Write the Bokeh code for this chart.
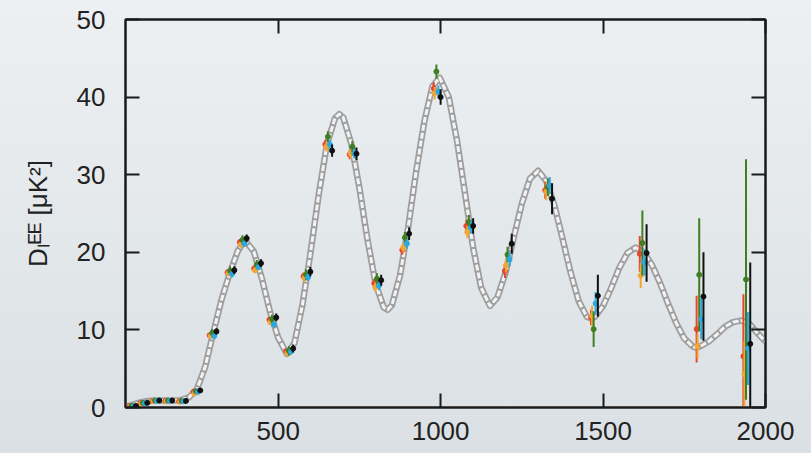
from bokeh.plotting import figure
from bokeh.models import LinearAxis, FixedTicker, Range1d, ColumnDataSource
from bokeh.embed import file_html
from bokeh.resources import INLINE

# ---------------- data ----------------
x_ticks = [500, 1000, 1500, 2000]
y_ticks = [0, 10, 20, 30, 40, 50]

theory_ell = [30, 50, 75, 100, 125, 150, 175, 200, 225, 250, 275, 300, 325, 350, 375,
              397, 425, 450, 475, 500, 527, 550, 575, 600, 625, 650, 675, 688, 700, 725, 750,
              775, 800, 825, 837, 850, 875, 900, 925, 950, 975, 997, 1025, 1050, 1075, 1100,
              1125, 1152, 1175, 1200, 1225, 1250, 1275, 1300, 1325, 1350, 1375, 1400, 1425,
              1450, 1462, 1475, 1500, 1525, 1550, 1575, 1600, 1625, 1650, 1675, 1700, 1725,
              1750, 1775, 1787, 1800, 1825, 1850, 1875, 1900, 1925, 1950, 1975, 2000]
theory_dl = [0.1, 0.3, 0.65, 0.85, 0.9, 0.9, 0.9, 0.95, 1.3, 2.4, 5.2, 9.6, 13.8, 17.2, 20.1,
             21.6, 20.1, 16.6, 12.3, 9.0, 6.9, 8.3, 13.3, 20.1, 27.5, 33.9, 37.3, 37.8, 37.4, 34.0,
             28.3, 21.6, 15.9, 12.9, 12.6, 13.2, 17.0, 23.2, 30.5, 36.9, 41.4, 42.5, 40.0, 34.5,
             27.6, 20.6, 15.4, 13.1, 14.2, 17.4, 21.9, 26.3, 29.5, 30.5, 29.2, 26.1, 21.8, 17.4,
             13.7, 11.7, 11.5, 11.7, 13.1, 15.4, 18.0, 19.9, 20.6, 20.0, 18.4, 16.1, 13.4, 10.9,
             8.9, 7.9, 7.7, 7.9, 8.5, 9.4, 10.4, 11.0, 11.2, 10.8, 9.6, 8.5]

bins = [49, 84, 121, 161, 203, 247, 297, 352, 390, 434, 481, 533, 586, 653, 728, 804,
        890, 987, 1087, 1206, 1330, 1471, 1621, 1796, 1940]

red_val = [0.15, 0.55, 0.85, 0.85, 0.8, 2.0, 9.3, 17.4, 21.3, 17.9, 11.3, 7.2, 16.9, 33.9,
           32.6, 16.0, 20.3, 41.1, 23.4, 17.6, 28.0, 11.6, 19.8, 10.1, 6.6]
red_err = [0.1, 0.1, 0.1, 0.1, 0.1, 0.2, 0.3, 0.4, 0.4, 0.4, 0.4, 0.4, 0.5, 0.6, 0.6, 0.6,
           0.6, 0.8, 0.8, 0.9, 1.1, 1.0, 2.3, 4.3, 8.0]

orange_val = [0.1, 0.5, 0.8, 0.8, 0.75, 1.8, 9.2, 17.3, 21.0, 17.7, 11.0, 7.0, 16.7, 33.6,
              32.7, 15.5, 20.6, 40.5, 22.6, 18.3, 27.8, 11.8, 17.0, 7.9, 4.3]
orange_err = [0.1, 0.1, 0.1, 0.1, 0.1, 0.2, 0.3, 0.4, 0.4, 0.4, 0.4, 0.4, 0.5, 0.6, 0.6, 0.6,
              0.6, 0.8, 0.8, 0.9, 1.1, 1.3, 1.6, 1.6, 4.3]

green_val = [0.2, 0.6, 0.9, 0.9, 0.85, 2.1, 9.6, 17.6, 21.6, 18.4, 11.4, 7.3, 17.1, 34.9,
             33.6, 16.6, 21.9, 43.3, 23.9, 19.7, 28.4, 10.1, 21.2, 17.1, 16.5]
green_err = [0.1, 0.1, 0.1, 0.1, 0.1, 0.3, 0.5, 0.6, 0.6, 0.6, 0.6, 0.6, 0.7, 0.7, 0.7, 0.7,
             0.7, 0.9, 0.9, 1.0, 1.1, 2.3, 4.2, 7.3, 15.5]

blue_val = [0.15, 0.55, 0.85, 0.85, 0.8, 2.0, 9.2, 17.2, 21.1, 18.1, 10.7, 7.2, 16.8, 33.9,
            32.7, 15.7, 21.1, 40.7, 23.2, 19.1, 28.6, 13.4, 18.7, 11.4, 7.6]
blue_err = [0.1, 0.1, 0.1, 0.1, 0.1, 0.2, 0.3, 0.4, 0.4, 0.4, 0.4, 0.4, 0.5, 0.6, 0.6, 0.6,
            0.6, 0.8, 0.8, 0.9, 1.1, 1.5, 1.7, 2.6, 4.7]

black_val = [0.2, 0.6, 0.9, 0.9, 0.85, 2.2, 9.8, 17.7, 21.8, 18.6, 11.6, 7.6, 17.5, 33.1,
             32.7, 16.4, 22.4, 40.0, 23.4, 21.1, 26.9, 14.4, 19.9, 14.3, 8.2]
black_err = [0.1, 0.1, 0.1, 0.1, 0.1, 0.3, 0.4, 0.5, 0.5, 0.5, 0.5, 0.5, 0.6, 0.8, 0.8, 0.7,
             0.8, 1.0, 1.0, 1.3, 2.0, 2.7, 3.7, 5.7, 10.5]

# per-series multipole shift used in the original plot (to separate the points)
series = [
    ("red", red_val, red_err, -8, "#e4472b"),
    ("orange", orange_val, orange_err, -5, "#f2a634"),
    ("green", green_val, green_err, 0, "#3e7f22"),
    ("blue", blue_val, blue_err, 6, "#2aa9e0"),
    ("black", black_val, black_err, 13, "#111111"),
]

FONT = "Liberation Sans"
INK = "#1a1a1a"

# ---------------- figure ----------------
p = figure(width=811, height=453, x_range=Range1d(30, 2000), y_range=Range1d(0, 50),
           output_backend="svg", toolbar_location=None,
           min_border_left=125, min_border_right=46, min_border_top=19, min_border_bottom=46,
           background_fill_alpha=0, border_fill_alpha=0)
p.styles = {"margin": "0px", "background": "linear-gradient(#edf0f2, #dae0e4)"}
p.grid.visible = False
p.outline_line_color = INK
p.outline_line_width = 2

left = p.yaxis[0]
bottom = p.xaxis[0]
left.ticker = FixedTicker(ticks=y_ticks)
bottom.ticker = FixedTicker(ticks=x_ticks)

right = LinearAxis(ticker=FixedTicker(ticks=y_ticks))
top = LinearAxis(ticker=FixedTicker(ticks=x_ticks))
p.add_layout(right, "right")
p.add_layout(top, "above")

for ax in (left, bottom, right, top):
    ax.axis_line_color = INK
    ax.axis_line_width = 2
    ax.major_tick_line_color = INK
    ax.major_tick_line_width = 2
    ax.major_tick_in = 14
    ax.major_tick_out = 0
    ax.minor_tick_line_color = None

for ax in (left, bottom):
    ax.major_label_text_font = FONT
    ax.major_label_text_font_size = "26px"
    ax.major_label_text_color = "#222222"

for ax in (right, top):
    ax.major_label_text_font_size = "0px"
    ax.major_label_text_color = None

left.major_label_standoff = 20
bottom.major_label_standoff = 14

left.axis_label = "Dₗᴱᴱ [μK²]"
left.axis_label_text_font = FONT
left.axis_label_text_font_size = "26px"
left.axis_label_text_font_style = "normal"
left.axis_label_text_color = "#222222"
left.axis_label_standoff = 21

# theory curve (gray outline with light core)
p.line(theory_ell, theory_dl, line_color="#9e9e9e", line_width=6.5, line_join="round")
p.line(theory_ell, theory_dl, line_color="#f3f3f3", line_width=3, line_dash="6 2",
       line_join="round")

for name, vals, errs, shift, color in series:
    src = ColumnDataSource(dict(
        x=[b + shift for b in bins],
        y=vals,
        lo=[v - e for v, e in zip(vals, errs)],
        hi=[v + e for v, e in zip(vals, errs)],
    ))
    p.segment(x0="x", y0="lo", x1="x", y1="hi", source=src, line_color=color, line_width=2)
    p.scatter("x", "y", source=src, size=5, color=color)

open("out.html", "w").write(file_html(p, INLINE))
